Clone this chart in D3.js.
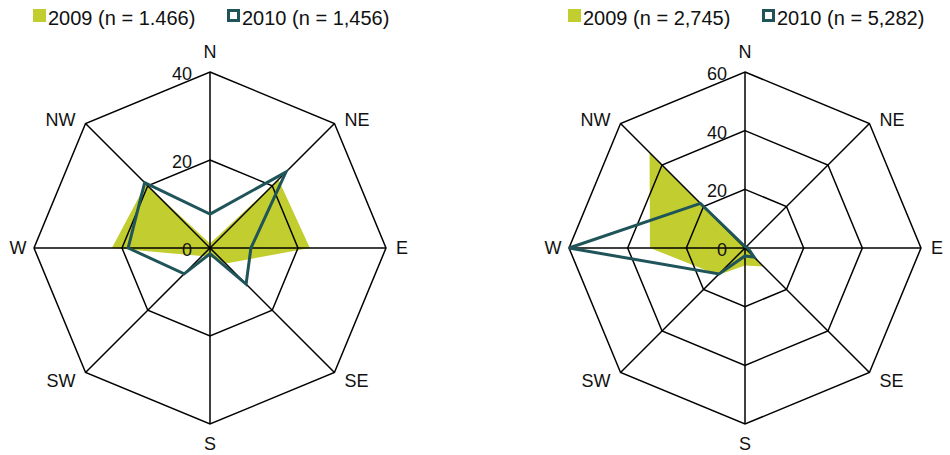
<!DOCTYPE html>
<html>
<head>
<meta charset="utf-8">
<script src="https://cdn.jsdelivr.net/npm/d3@7"></script>
<style>
  body { margin: 0; background: #fff; }
  svg text { font-family: "Liberation Sans", Arial, sans-serif; fill: #111; }
</style>
</head>
<body>
<svg id="chart" width="950" height="455"></svg>
<script>
// wind directions, clockwise from north
var directions = ['N', 'NE', 'E', 'SE', 'S', 'SW', 'W', 'NW']

// left chart (percent per direction)
var leftTicks = [0, 20, 40]
var left2009 = [1, 22, 22.7, 5, 2, 2.6, 22.3, 20.6]
var left2010 = [7.7, 24.4, 9.3, 11.6, 1.3, 8.3, 18.6, 21]
var leftLegend = ['2009 (n = 1.466)', '2010 (n = 1,456)']

// right chart
var rightTicks = [0, 20, 40, 60]
var right2009 = [0.5, 0.5, 0.5, 8.9, 6, 13, 32.4, 46]
var right2010 = [0.5, 0.5, 1, 4.4, 2.7, 12.5, 60, 21.5]
var rightLegend = ['2009 (n = 2,745)', '2010 (n = 5,282)']

var YELLOW = '#c2cd2f'
var TEAL = '#1f5459'

var svg = d3.select('#chart')

var angleOf = function(i) {
    return i * Math.PI * 2 / directions.length
}

var drawRadar = function(cx, cy, radius, ticks, filled, lined) {
    var g = svg.append('g').attr('transform', 'translate(' + cx + ',' + cy + ')')
    var r = d3.scaleLinear().domain([0, d3.max(ticks)]).range([0, radius])

    var radial = d3.lineRadial()
        .angle(function(d, i) { return angleOf(i) })
        .radius(function(d) { return r(d) })
        .curve(d3.curveLinearClosed)

    // 2009 filled area
    g.append('path')
        .attr('d', radial(filled))
        .attr('fill', YELLOW)
        .attr('stroke', 'none')

    // ring polygons
    ticks.slice(1).forEach(function(t) {
        g.append('path')
            .attr('d', radial(directions.map(function() { return t })))
            .attr('fill', 'none')
            .attr('stroke', '#000')
            .attr('stroke-width', 1.5)
    })

    // spokes
    directions.forEach(function(d, i) {
        var a = angleOf(i)
        g.append('line')
            .attr('x1', 0).attr('y1', 0)
            .attr('x2', Math.sin(a) * radius)
            .attr('y2', -Math.cos(a) * radius)
            .attr('stroke', '#000')
            .attr('stroke-width', 1.5)
    })

    // 2010 line
    g.append('path')
        .attr('d', radial(lined))
        .attr('fill', 'none')
        .attr('stroke', TEAL)
        .attr('stroke-width', 3)
        .attr('stroke-linejoin', 'miter')

    // tick labels
    ticks.forEach(function(t) {
        g.append('text')
            .attr('x', -18)
            .attr('y', -r(t) + 8)
            .attr('text-anchor', 'end')
            .style('font-size', '18px')
            .text(t)
    })

    // direction labels
    directions.forEach(function(d, i) {
        var a = angleOf(i)
        var sx = Math.round(Math.sin(a) * 1000) / 1000
        var sy = Math.round(-Math.cos(a) * 1000) / 1000
        var x, y, anchor = 'middle'
        if (i % 2 == 0) {
            x = sx * 192
            y = sy * 196
        } else {
            x = sx * radius + (sx > 0 ? 10 : -10)
            y = sy * radius + (sy < 0 ? -4 : 8)
            anchor = sx > 0 ? 'start' : 'end'
        }
        g.append('text')
            .attr('x', x)
            .attr('y', y)
            .attr('dy', '0.35em')
            .attr('text-anchor', anchor)
            .style('font-size', '18px')
            .text(d)
    })
}

var drawLegend = function(x1, x2, labels) {
    var items = [
        {x: x1, label: labels[0], fill: YELLOW, stroke: 'none'},
        {x: x2, label: labels[1], fill: '#fff', stroke: TEAL}
    ]
    items.forEach(function(it) {
        var g = svg.append('g')
        if (it.stroke == 'none') {
            g.append('rect').attr('x', it.x).attr('y', 9).attr('width', 13).attr('height', 13)
                .attr('fill', it.fill)
        } else {
            g.append('rect').attr('x', it.x + 1.5).attr('y', 10.5).attr('width', 10).attr('height', 10)
                .attr('fill', it.fill).attr('stroke', it.stroke).attr('stroke-width', 3)
        }
        g.append('text')
            .attr('x', it.x + 15)
            .attr('y', 25)
            .style('font-size', '20px')
            .text(it.label)
    })
}

drawRadar(210, 248, 176, leftTicks, left2009, left2010)
drawRadar(745, 248, 176, rightTicks, right2009, right2010)
drawLegend(33, 227, leftLegend)
drawLegend(568, 762, rightLegend)
</script>
</body>
</html>
